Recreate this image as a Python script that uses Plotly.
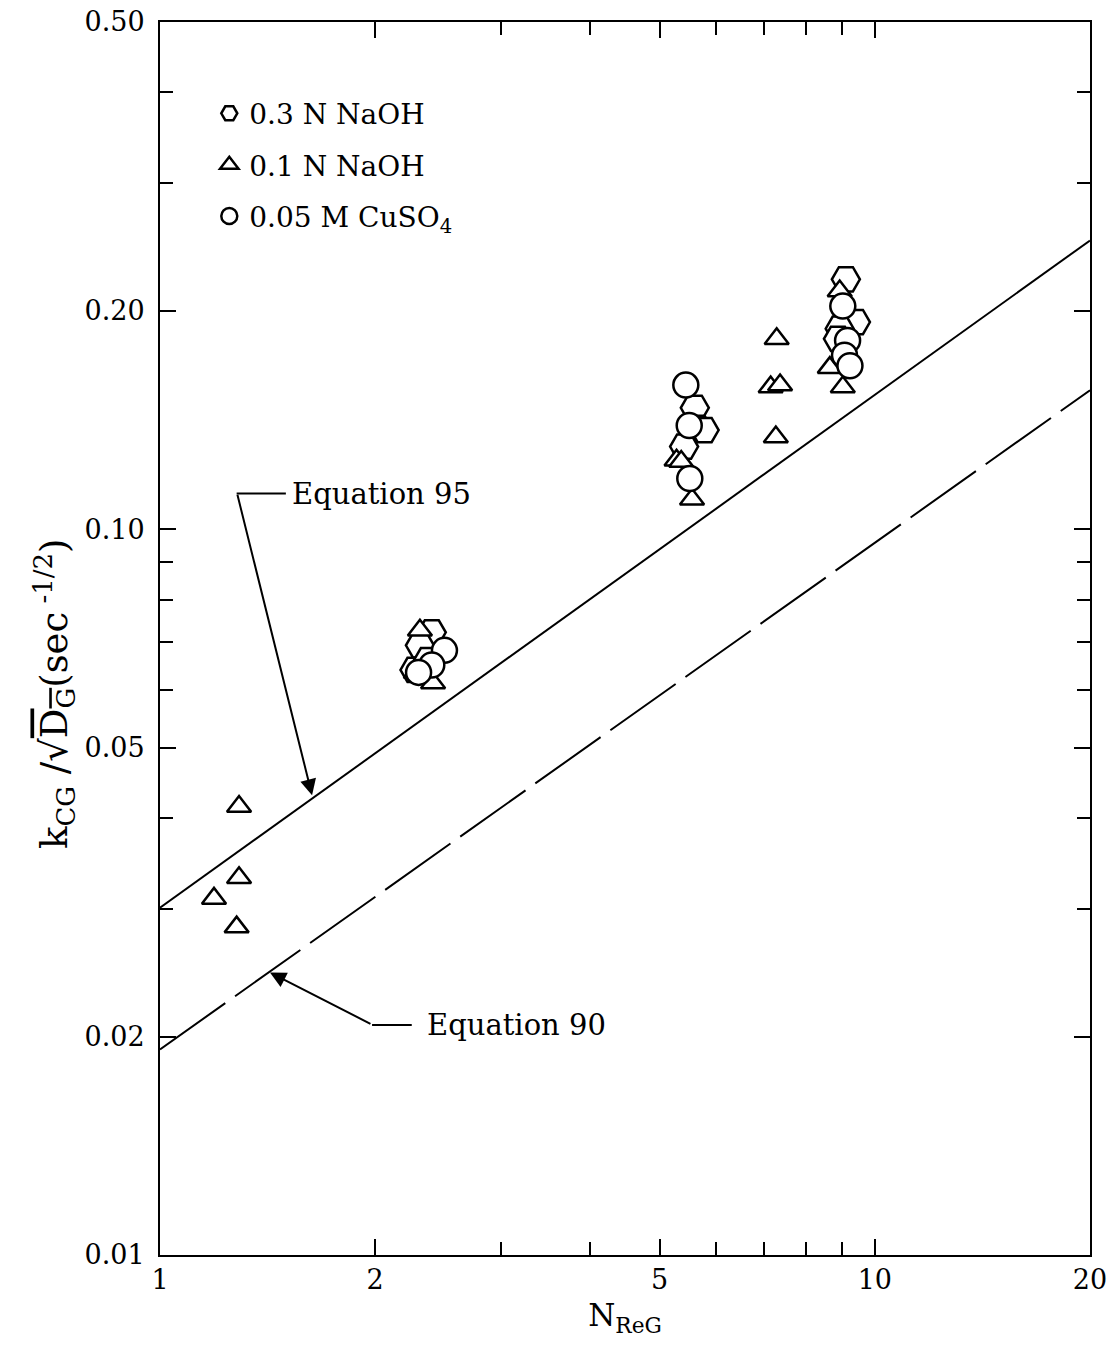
import numpy as np
import plotly.graph_objects as go

# ---- data ----
hex_x = [2.40, 2.31, 2.27, 2.37, 5.60, 5.65, 5.78, 5.41, 9.11, 9.41, 8.93, 8.88]
hex_y = [0.0721, 0.0692, 0.0640, 0.0660, 0.147, 0.138, 0.137, 0.130, 0.221, 0.193, 0.189, 0.183]

tri_x = [1.19, 1.29, 1.29, 1.28, 2.41, 2.28, 2.31, 5.28, 5.36, 5.55, 7.29, 7.15, 7.37, 7.27, 8.93, 8.65, 9.02]
tri_y = [0.0310, 0.0415, 0.0331, 0.0283, 0.0614, 0.0635, 0.0726, 0.1245, 0.1240, 0.110,
         0.183, 0.157, 0.158, 0.134, 0.213, 0.167, 0.157]

circ_x = [2.50, 2.40, 2.30, 5.44, 5.50, 5.51, 9.02, 9.16, 9.07, 9.23]
circ_y = [0.0681, 0.0650, 0.0635, 0.158, 0.139, 0.1175, 0.203, 0.182, 0.1737, 0.168]

eq95_x = [1, 20]
eq95_y = [0.0301, 0.250]
eq90_x = [1, 20]
eq90_y = [0.0192, 0.1554]

x_tickvals = [1, 2, 5, 10, 20]
x_ticktext = ["1", "2", "5", "10", "20"]
x_minor = [3, 4, 6, 7, 8, 9]
y_tickvals = [0.01, 0.02, 0.05, 0.10, 0.20, 0.50]
y_ticktext = ["0.01", "0.02", "0.05", "0.10", "0.20", "0.50"]
y_minor = [0.03, 0.04, 0.06, 0.07, 0.08, 0.09, 0.3, 0.4]

FONT = "DejaVu Serif"

fig = go.Figure()

fig.add_trace(go.Scatter(x=eq95_x, y=eq95_y, mode="lines", showlegend=False,
                         line=dict(color="black", width=2)))
fig.add_trace(go.Scatter(x=eq90_x, y=eq90_y, mode="lines", showlegend=False,
                         line=dict(color="black", width=2, dash="80px,12px")))

mk_line = dict(color="black", width=2.5)
fig.add_trace(go.Scatter(x=hex_x, y=hex_y, mode="markers", name="0.3 N NaOH",
                         legendgroup="a",
                         marker=dict(symbol="hexagon2", size=28, color="white", line=mk_line)))
fig.add_trace(go.Scatter(x=tri_x, y=tri_y, mode="markers", name="0.1 N NaOH",
                         legendgroup="b",
                         marker=dict(symbol="triangle-up", size=21, color="white", line=mk_line)))
fig.add_trace(go.Scatter(x=circ_x, y=circ_y, mode="markers", name="0.05 M CuSO<sub>4</sub>",
                         legendgroup="c",
                         marker=dict(symbol="circle", size=25, color="white", line=mk_line)))

# Annotations (annotation coords on log axes are log10 values)
def L(v):
    return float(np.log10(v))

fig.add_annotation(x=L(1.632), y=L(0.0430), xref="x", yref="y", text="",
                   showarrow=True, ax=-75, ay=-302, arrowhead=2, arrowsize=1.6,
                   arrowwidth=2, arrowcolor="black")
fig.add_annotation(x=L(1.425), y=L(0.0245), xref="x", yref="y", text="",
                   showarrow=True, ax=102, ay=52, arrowhead=2, arrowsize=1.6,
                   arrowwidth=2, arrowcolor="black")
fig.add_annotation(x=L(1.52), y=L(0.112), xref="x", yref="y", text="Equation 95",
                   showarrow=False, xanchor="left", yanchor="middle",
                   font=dict(family=FONT, size=29, color="black"))
fig.add_annotation(x=L(2.35), y=L(0.02074), xref="x", yref="y", text="Equation 90",
                   showarrow=False, xanchor="left", yanchor="middle",
                   font=dict(family=FONT, size=29, color="black"))

# y-axis title as a rotated annotation (placed like the original)
fig.add_annotation(x=-0.113, y=0.455, xref="paper", yref="paper",
                   text="k<sub>CG</sub> /√<span style=\"text-decoration:overline\">D<sub>G</sub></span>(sec<sup> -1/2</sup>)",
                   textangle=-90, showarrow=False, xanchor="center", yanchor="middle",
                   font=dict(family=FONT, size=37, color="black"))

fig.add_shape(type="line", x0=1.28, x1=1.50, y0=0.112, y1=0.112, xref="x", yref="y",
              line=dict(color="black", width=2))
fig.add_shape(type="line", x0=1.98, x1=2.25, y0=0.02074, y1=0.02074, xref="x", yref="y",
              line=dict(color="black", width=2))

fig.update_xaxes(type="log", range=[0, np.log10(20)], tickvals=x_tickvals, ticktext=x_ticktext,
                 ticks="inside", ticklen=16, tickwidth=2, tickcolor="black",
                 minor=dict(tickvals=x_minor, ticks="inside", ticklen=13, tickwidth=2,
                            tickcolor="black"),
                 showline=True, linecolor="black", linewidth=2, mirror="ticks",
                 showgrid=False, zeroline=False, automargin=False,
                 tickfont=dict(family=FONT, size=27, color="black"),
                 title=dict(text="N<sub>ReG</sub>", font=dict(family=FONT, size=31, color="black"),
                            standoff=10))
fig.update_yaxes(type="log", range=[-2, np.log10(0.5)], tickvals=y_tickvals, ticktext=y_ticktext,
                 ticks="inside", ticklen=16, tickwidth=2, tickcolor="black",
                 minor=dict(tickvals=y_minor, ticks="inside", ticklen=13, tickwidth=2,
                            tickcolor="black"),
                 showline=True, linecolor="black", linewidth=2, mirror="ticks",
                 showgrid=False, zeroline=False, ticklabelstandoff=8, automargin=False,
                 tickfont=dict(family=FONT, size=27, color="black"))

fig.update_layout(
    width=1111, height=1348,
    margin=dict(l=160, r=21, t=22, b=93),
    paper_bgcolor="white", plot_bgcolor="white",
    font=dict(family=FONT, color="black"),
    legend=dict(x=0.053, y=0.946, xanchor="left", yanchor="top",
                font=dict(family=FONT, size=28, color="black"),
                traceorder="grouped", tracegroupgap=12,
                bgcolor="rgba(0,0,0,0)", itemsizing="trace"),
)

fig.write_html("out.html")
